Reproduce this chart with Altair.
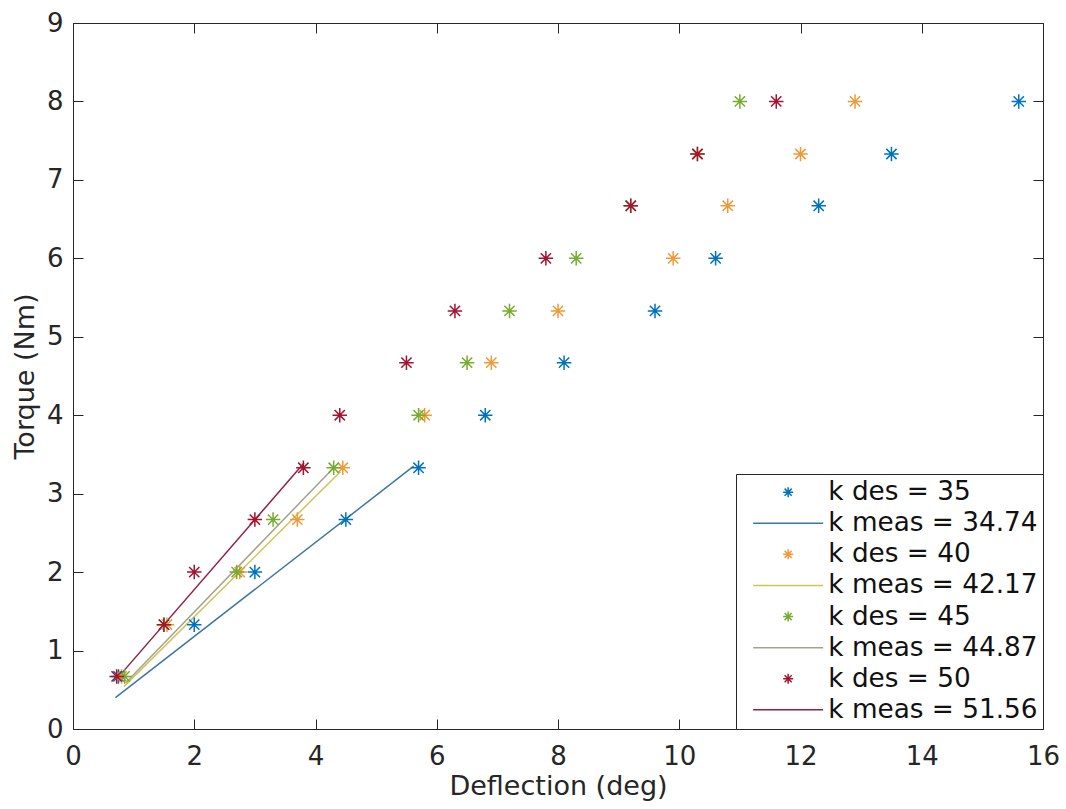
import altair as alt
import pandas as pd

# ---- data ----
torque = [0.67, 1.33, 2.0, 2.67, 3.33, 4.0, 4.67, 5.33, 6.0, 6.67, 7.33, 8.0]
defl_35 = [0.75, 2.0, 3.0, 4.5, 5.7, 6.8, 8.1, 9.6, 10.6, 12.3, 13.5, 15.6]
defl_40 = [0.80, 1.55, 2.75, 3.7, 4.45, 5.8, 6.9, 8.0, 9.9, 10.8, 12.0, 12.9]
defl_45 = [0.85, 1.5, 2.7, 3.3, 4.3, 5.7, 6.5, 7.2, 8.3, 9.2, 10.3, 11.0]
defl_50 = [0.72, 1.5, 2.0, 3.0, 3.8, 4.4, 5.5, 6.3, 7.8, 9.2, 10.3, 11.6]

des_labels = ["k des = 35", "k des = 40", "k des = 45", "k des = 50"]
meas_labels = ["k meas = 34.74", "k meas = 42.17", "k meas = 44.87", "k meas = 51.56"]

# fitted lines (end points)
line_x0 = [0.70, 0.84, 0.87, 0.78]
line_x1 = [5.62, 4.41, 4.30, 3.81]
line_t0 = [0.40, 0.54, 0.59, 0.69]
line_t1 = [3.35, 3.28, 3.33, 3.39]

des_colors = ["#0072BD", "#EE9A3A", "#77AC30", "#A2142F"]
meas_colors = ["#3C78A0", "#CFC35A", "#A3A38A", "#8E2040"]

x_ticks = [0, 2, 4, 6, 8, 10, 12, 14, 16]
y_ticks = [0, 1, 2, 3, 4, 5, 6, 7, 8, 9]

# ---- tables ----
pts_rows = []
for lab, dvals in zip(des_labels, [defl_35, defl_40, defl_45, defl_50]):
    for d, t in zip(dvals, torque):
        pts_rows.append({"defl": d, "torque": t, "series": lab})
pts = pd.DataFrame(pts_rows)

line_rows = []
for lab, a, b, c, e in zip(meas_labels, line_x0, line_x1, line_t0, line_t1):
    line_rows.append({"defl": a, "torque": c, "series": lab})
    line_rows.append({"defl": b, "torque": e, "series": lab})
lines = pd.DataFrame(line_rows)

domain = []
colors = []
star = "M0,-1L0,1M-1,0L1,0M-0.71,-0.71L0.71,0.71M-0.71,0.71L0.71,-0.71"
seg = "M-7,0L7,0"
shapes = []
for i in range(4):
    domain += [des_labels[i], meas_labels[i]]
    colors += [des_colors[i], meas_colors[i]]
    shapes += [star, seg]

FONT = "DejaVu Sans"
AX = "#262626"

xscale = alt.Scale(domain=[0, 16], nice=False, zero=False)
yscale = alt.Scale(domain=[0, 9], nice=False, zero=False)
cscale = alt.Scale(domain=domain, range=colors)
sscale = alt.Scale(domain=domain, range=shapes)

tick_in = {"expr": "-10"}

x_main = alt.Axis(orient="bottom", values=x_ticks, title="Deflection (deg)", grid=False,
                  tickSize=tick_in, labelPadding=24, titlePadding=4, labelFlush=False)
y_main = alt.Axis(orient="left", values=y_ticks, title="Torque (Nm)", grid=False,
                  tickSize=tick_in, labelPadding=20, titlePadding=7, labelFlush=False)
x_top = alt.Axis(orient="top", values=x_ticks, title=None, labels=False, grid=False, tickSize=tick_in)
y_right = alt.Axis(orient="right", values=y_ticks, title=None, labels=False, grid=False, tickSize=tick_in)

leg = alt.Legend(title=None, symbolType="circle")

line_layer = alt.Chart(lines).mark_line(strokeWidth=1.5).encode(
    x=alt.X("defl:Q", scale=xscale, axis=x_top),
    y=alt.Y("torque:Q", scale=yscale, axis=y_right),
    color=alt.Color("series:N", scale=cscale, legend=leg),
    detail="series:N",
)

point_layer = alt.Chart(pts).mark_point(filled=False, strokeWidth=1.5, size=210, opacity=1).encode(
    x=alt.X("defl:Q", scale=xscale, axis=x_main),
    y=alt.Y("torque:Q", scale=yscale, axis=y_main),
    color=alt.Color("series:N", scale=cscale, legend=leg),
    shape=alt.Shape("series:N", scale=sscale, legend=leg),
)

chart = alt.layer(line_layer, point_layer).resolve_axis(
    x="independent", y="independent"
).properties(
    width=970, height=706, autosize="none",
    padding={"left": 73, "top": 23, "right": 23, "bottom": 80},
    background="white",
).configure_view(stroke=None).configure_axis(
    domainColor=AX, tickColor=AX, labelColor=AX, titleColor=AX,
    labelFont=FONT, titleFont=FONT, labelFontSize=26, titleFontSize=27,
    titleFontWeight="normal", domainWidth=1, tickWidth=1,
).configure_legend(
    orient="bottom-right", offset=0, strokeColor=AX, fillColor="white",
    padding=5, labelFont=FONT, labelFontSize=26.3, labelColor="#111111",
    labelLimit=500, labelOffset=27, symbolOffset=34, rowPadding=4.1,
    symbolSize=100, symbolStrokeWidth=1.5, symbolFillColor="transparent",
)

chart.save("out.html", embed_options={"renderer": "svg", "actions": False})
